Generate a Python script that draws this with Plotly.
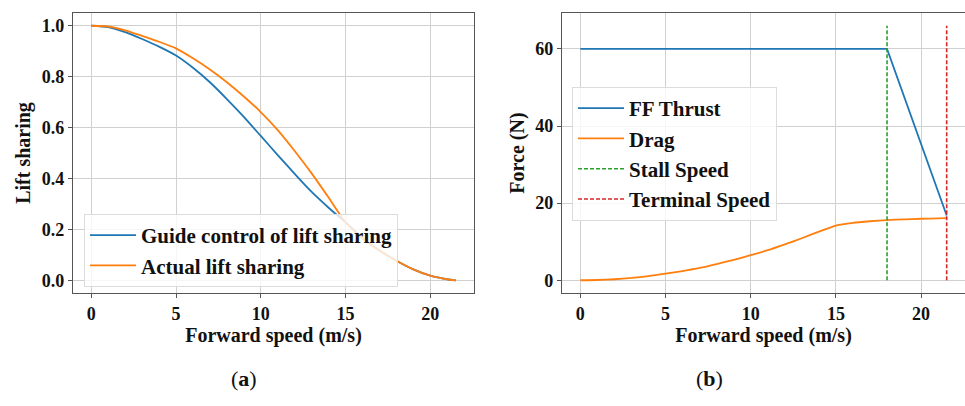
import plotly.graph_objects as go

# Forward speed samples (m/s)
speed_a = [0, 1, 2, 3, 4, 5, 6, 7, 8, 9, 10, 11, 12, 13, 14, 15,
           16, 17, 18, 19, 20, 21, 21.5]
# Commanded lift sharing
guide_share = [1.0, 0.995, 0.975, 0.948, 0.918, 0.883, 0.835, 0.778, 0.712,
               0.642, 0.567, 0.492, 0.418, 0.347, 0.285, 0.228,
               0.165, 0.117, 0.077, 0.043, 0.018, 0.004, 0.0]
# Achieved lift sharing
actual_share = [1.0, 0.997, 0.982, 0.960, 0.937, 0.911, 0.872, 0.828, 0.778,
                0.722, 0.661, 0.590, 0.508, 0.420, 0.325, 0.228,
                0.165, 0.117, 0.077, 0.043, 0.018, 0.004, 0.0]

# Force balance
speed_b = [0, 1, 2, 3, 4, 5, 6, 7, 8, 9, 10, 11, 12, 13, 14, 15,
           16, 17, 18, 19, 20, 21, 21.5]
drag_force = [0.0, 0.07, 0.27, 0.6, 1.07, 1.7, 2.4, 3.2, 4.2, 5.3, 6.5, 7.8,
              9.3, 10.9, 12.6, 14.2, 14.9, 15.3, 15.6, 15.8, 15.95, 16.05, 16.1]
thrust_speed = [0, 18, 21.5]
thrust_force = [60, 60, 16.8]
stall_speed = 18.0
terminal_speed = 21.5
marker_height = [0, 66]

x_ticks = [0, 5, 10, 15, 20]
share_ticks = [0.0, 0.2, 0.4, 0.6, 0.8, 1.0]
force_ticks = [0, 20, 40, 60]

BLUE = "#1f77b4"
ORANGE = "#ff7f0e"
GREEN = "#2ca02c"
RED = "#d62728"
FONT = "Liberation Serif"
W, H = 965, 406

fig = go.Figure()

fig.add_trace(go.Scatter(x=speed_a, y=guide_share, mode="lines",
                         name="<b>Guide control of lift sharing</b>",
                         line=dict(color=BLUE, width=1.8, shape="spline", smoothing=0.6),
                         xaxis="x", yaxis="y", legend="legend"))
fig.add_trace(go.Scatter(x=speed_a, y=actual_share, mode="lines",
                         name="<b>Actual lift sharing</b>",
                         line=dict(color=ORANGE, width=1.8, shape="spline", smoothing=0.6),
                         xaxis="x", yaxis="y", legend="legend"))

fig.add_trace(go.Scatter(x=thrust_speed, y=thrust_force, mode="lines",
                         name="<b>FF Thrust</b>",
                         line=dict(color=BLUE, width=1.8),
                         xaxis="x2", yaxis="y2", legend="legend2"))
fig.add_trace(go.Scatter(x=speed_b, y=drag_force, mode="lines",
                         name="<b>Drag</b>",
                         line=dict(color=ORANGE, width=1.8, shape="spline", smoothing=0.5),
                         xaxis="x2", yaxis="y2", legend="legend2"))
fig.add_trace(go.Scatter(x=[stall_speed, stall_speed], y=marker_height, mode="lines",
                         name="<b>Stall Speed</b>",
                         line=dict(color=GREEN, width=1.6, dash="4px,2px"),
                         xaxis="x2", yaxis="y2", legend="legend2"))
fig.add_trace(go.Scatter(x=[terminal_speed, terminal_speed], y=marker_height, mode="lines",
                         name="<b>Terminal Speed</b>",
                         line=dict(color=RED, width=1.6, dash="4px,2px"),
                         xaxis="x2", yaxis="y2", legend="legend2"))


def px_x(p):
    return p / W


def px_y(p):
    return 1 - p / H


axis_common = dict(
    showline=True, mirror=True, linecolor="#555", linewidth=1.2,
    showgrid=True, gridcolor="#d0d0d0", gridwidth=1,
    zeroline=False, ticks="outside", ticklen=4, tickcolor="#555",
    tickfont=dict(family=FONT, size=18, color="#111"),
)
title_font = dict(family=FONT, size=20, color="#111")

ydom = [px_y(293), px_y(13)]
xr = [-1.075, 22.575]

legend_common = dict(
    xanchor="left", yanchor="top",
    bgcolor="rgba(255,255,255,0.8)", bordercolor="#dcdcdc", borderwidth=1,
    font=dict(family=FONT, size=21, color="#111"), itemwidth=46,
)

fig.update_layout(
    width=W, height=H,
    margin=dict(l=0, r=0, t=0, b=0),
    paper_bgcolor="white", plot_bgcolor="white",
    showlegend=True,
    xaxis=dict(axis_common, domain=[px_x(73), px_x(474)], range=xr,
               tickvals=x_ticks, ticktext=[f"<b>{t}</b>" for t in x_ticks],
               title=dict(text="<b>Forward speed (m/s)</b>", font=title_font, standoff=2),
               anchor="y"),
    yaxis=dict(axis_common, domain=ydom, range=[-0.05, 1.05],
               tickvals=share_ticks, ticktext=[f"<b>{t:.1f}</b>" for t in share_ticks],
               title=dict(text="<b>Lift sharing</b>", font=title_font, standoff=5),
               anchor="x"),
    xaxis2=dict(axis_common, domain=[px_x(562), 1.0], range=xr,
                tickvals=x_ticks, ticktext=[f"<b>{t}</b>" for t in x_ticks],
                title=dict(text="<b>Forward speed (m/s)</b>", font=title_font, standoff=2),
                anchor="y2"),
    yaxis2=dict(axis_common, domain=ydom, range=[-3.3, 69.3],
                tickvals=force_ticks, ticktext=[f"<b>{t}</b>" for t in force_ticks],
                title=dict(text="<b>Force (N)</b>", font=title_font, standoff=5),
                anchor="x2"),
    legend=dict(legend_common, x=px_x(84), y=px_y(214)),
    legend2=dict(legend_common, x=px_x(572), y=px_y(87)),
    annotations=[
        dict(text="(<b>a</b>)", x=px_x(229), y=px_y(393), xref="paper", yref="paper",
             showarrow=False, font=dict(family=FONT, size=22, color="#111")),
        dict(text="(<b>b</b>)", x=px_x(725), y=px_y(393), xref="paper", yref="paper",
             showarrow=False, font=dict(family=FONT, size=22, color="#111")),
    ],
)

fig.write_html("out.html")
